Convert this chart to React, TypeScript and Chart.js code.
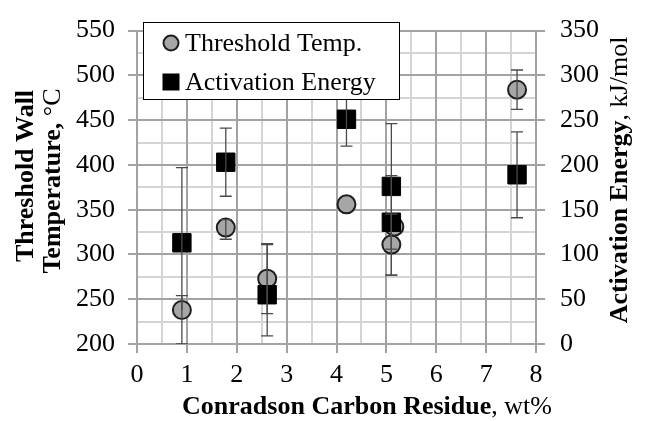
import React, { useEffect, useRef } from 'react';
import { Chart, registerables } from 'chart.js';

Chart.register(...registerables);

// ---- data ----
const tempLabel = 'Threshold Temp.';
const energyLabel = 'Activation Energy';
const xTemp = [0.9, 1.78, 2.61, 4.2, 5.1, 5.16, 7.62];
const tempValues = [238, 330, 273, 356, 311, 331, 484];
const tempErrPlus = [16, 9, 39, 0, 34, 0, 22];
const tempErrMinus = [0, 13, 39, 0, 34, 0, 22];

const xEnergy = [0.9, 1.78, 2.61, 4.2, 5.1, 5.1, 7.62];
const energyValues = [113, 203, 55, 251, 136, 176, 189];
const energyErrPlus = [84, 38, 56, 30, 52, 70, 48];
const energyErrMinus = [113, 38, 46, 30, 59, 70, 48];

const xTicks = [0, 1, 2, 3, 4, 5, 6, 7, 8];
const leftTicks = [200, 250, 300, 350, 400, 450, 500, 550];
const rightTicks = [0, 50, 100, 150, 200, 250, 300, 350];

const FONT = '"Liberation Serif", "Times New Roman", serif';
const MAJOR = '#a2a2a2';
const MINOR = '#d4d4d4';

type Part = { text: string; bold: boolean };

function drawMixed(ctx: CanvasRenderingContext2D, parts: Part[], size: number) {
  let total = 0;
  const widths = parts.map((p) => {
    ctx.font = `${p.bold ? 'bold ' : ''}${size}px ${FONT}`;
    const w = ctx.measureText(p.text).width;
    total += w;
    return w;
  });
  let x = -total / 2;
  parts.forEach((p, i) => {
    ctx.font = `${p.bold ? 'bold ' : ''}${size}px ${FONT}`;
    ctx.fillText(p.text, x, 0);
    x += widths[i];
  });
}

const minorGridPlugin = {
  id: 'minorGrid',
  beforeDraw(chart: any) {
    const { ctx, chartArea: a, scales } = chart;
    ctx.save();
    ctx.strokeStyle = MINOR;
    ctx.lineWidth = 2;
    const xs = scales.x;
    for (let i = 0; i < xTicks.length - 1; i++) {
      const v = (xTicks[i] + xTicks[i + 1]) / 2;
      const px = Math.round(xs.getPixelForValue(v));
      ctx.beginPath();
      ctx.moveTo(px, a.top);
      ctx.lineTo(px, a.bottom);
      ctx.stroke();
    }
    const ys = scales.y;
    for (let i = 0; i < leftTicks.length - 1; i++) {
      const v = (leftTicks[i] + leftTicks[i + 1]) / 2;
      const py = Math.round(ys.getPixelForValue(v));
      ctx.beginPath();
      ctx.moveTo(a.left, py);
      ctx.lineTo(a.right, py);
      ctx.stroke();
    }
    ctx.restore();
  },
};

const errorBarPlugin = {
  id: 'errorBars',
  afterDatasetsDraw(chart: any) {
    const { ctx, chartArea: a } = chart;
    ctx.save();
    ctx.beginPath();
    ctx.rect(a.left, a.top, a.right - a.left, a.bottom - a.top);
    ctx.clip();
    ctx.strokeStyle = '#4a4a4a';
    ctx.lineWidth = 1.3;
    chart.data.datasets.forEach((ds: any) => {
      const ys = chart.scales[ds.yAxisID];
      const xs = chart.scales.x;
      ds.data.forEach((pt: any, i: number) => {
        const plus = ds.errPlus[i];
        const minus = ds.errMinus[i];
        if (!plus && !minus) return;
        const px = xs.getPixelForValue(pt.x);
        const top = ys.getPixelForValue(pt.y + plus);
        const bot = ys.getPixelForValue(pt.y - minus);
        ctx.beginPath();
        ctx.moveTo(px, top);
        ctx.lineTo(px, bot);
        if (plus) {
          ctx.moveTo(px - 6, top);
          ctx.lineTo(px + 6, top);
        }
        if (minus) {
          ctx.moveTo(px - 6, bot);
          ctx.lineTo(px + 6, bot);
        }
        ctx.stroke();
      });
    });
    ctx.restore();
  },
};

const overlayPlugin = {
  id: 'overlay',
  afterDraw(chart: any) {
    const { ctx } = chart;
    ctx.save();
    // legend box
    const lx = 143, ly = 22, lw = 256, lh = 77;
    ctx.fillStyle = '#ffffff';
    ctx.fillRect(lx, ly, lw, lh);
    ctx.strokeStyle = '#000000';
    ctx.lineWidth = 1;
    ctx.strokeRect(lx + 0.5, ly + 0.5, lw, lh);
    const dsets = chart.data.datasets;
    const rows = [43, 82];
    dsets.forEach((ds: any, i: number) => {
      const cy = rows[i];
      const cx = 171;
      ctx.fillStyle = ds.backgroundColor;
      ctx.strokeStyle = ds.borderColor;
      ctx.lineWidth = ds.borderWidth;
      if (ds.pointStyle === 'circle') {
        ctx.beginPath();
        ctx.arc(cx, cy, 7.5, 0, Math.PI * 2);
        ctx.fill();
        ctx.stroke();
      } else {
        ctx.fillRect(cx - 8.5, cy - 8.5, 17, 17);
      }
      ctx.fillStyle = '#000000';
      ctx.font = `26px ${FONT}`;
      ctx.textAlign = 'left';
      ctx.textBaseline = 'middle';
      ctx.fillText(ds.label, 185, cy + 1);
    });

    // axis titles
    ctx.fillStyle = '#000000';
    ctx.textAlign = 'left';
    ctx.textBaseline = 'alphabetic';
    // bottom
    ctx.save();
    ctx.translate(367, 414);
    drawMixed(ctx, [
      { text: 'Conradson Carbon Residue', bold: true },
      { text: ', wt%', bold: false },
    ], 26);
    ctx.restore();
    // left, two lines
    ctx.save();
    ctx.translate(33, 176);
    ctx.rotate(-Math.PI / 2);
    drawMixed(ctx, [{ text: 'Threshold Wall', bold: true }], 26);
    ctx.restore();
    ctx.save();
    ctx.translate(60, 181);
    ctx.rotate(-Math.PI / 2);
    drawMixed(ctx, [
      { text: 'Temperature,', bold: true },
      { text: ' °C', bold: false },
    ], 26);
    ctx.restore();
    // right
    ctx.save();
    ctx.translate(627, 180);
    ctx.rotate(-Math.PI / 2);
    drawMixed(ctx, [
      { text: 'Activation Energy', bold: true },
      { text: ', kJ/mol', bold: false },
    ], 26);
    ctx.restore();
    ctx.restore();
  },
};

export default function App() {
  const ref = useRef<HTMLCanvasElement | null>(null);
  useEffect(() => {
    if (!ref.current) return;
    const chart = new Chart(ref.current, {
      type: 'scatter',
      data: {
        datasets: [
          {
            label: tempLabel,
            data: xTemp.map((x, i) => ({ x, y: tempValues[i] })),
            yAxisID: 'y',
            pointStyle: 'circle',
            pointRadius: 9,
            backgroundColor: '#a6a6a6',
            borderColor: '#1e1e1e',
            borderWidth: 2,
            order: 2,
            errPlus: tempErrPlus,
            errMinus: tempErrMinus,
          } as any,
          {
            label: energyLabel,
            data: xEnergy.map((x, i) => ({ x, y: energyValues[i] })),
            yAxisID: 'y2',
            pointStyle: 'rect',
            pointRadius: 13,
            backgroundColor: '#000000',
            borderColor: '#000000',
            borderWidth: 1,
            order: 1,
            errPlus: energyErrPlus,
            errMinus: energyErrMinus,
          } as any,
        ],
      },
      options: {
        animation: false,
        responsive: false,
        events: [],
        layout: { padding: { top: 20, left: 0, right: 0, bottom: 0 } },
        plugins: { legend: { display: false }, tooltip: { enabled: false } },
        scales: {
          x: {
            type: 'linear',
            min: 0,
            max: 8,
            afterBuildTicks: (s: any) => { s.ticks = xTicks.map((v) => ({ value: v })); },
            afterFit: (s: any) => { s.height = 77; },
            grid: { color: MAJOR, lineWidth: 2, tickLength: 9, tickColor: MAJOR },
            border: { color: MAJOR, width: 2 },
            ticks: { color: '#000', font: { family: FONT, size: 26 }, padding: 7, maxRotation: 0 },
          },
          y: {
            type: 'linear',
            position: 'left',
            min: 200,
            max: 550,
            afterBuildTicks: (s: any) => { s.ticks = leftTicks.map((v) => ({ value: v })); },
            afterFit: (s: any) => { s.width = 137; },
            grid: { color: MAJOR, lineWidth: 2, tickLength: 9, tickColor: MAJOR },
            border: { color: MAJOR, width: 2 },
            ticks: { color: '#000', font: { family: FONT, size: 26 }, padding: 13 },
          },
          y2: {
            type: 'linear',
            position: 'right',
            min: 0,
            max: 350,
            afterBuildTicks: (s: any) => { s.ticks = rightTicks.map((v) => ({ value: v })); },
            afterFit: (s: any) => { s.width = 111; },
            grid: { drawOnChartArea: false, color: MAJOR, lineWidth: 2, tickLength: 9, tickColor: MAJOR },
            border: { color: MAJOR, width: 2 },
            ticks: { color: '#000', font: { family: FONT, size: 26 }, padding: 15 },
          },
        },
      } as any,
      plugins: [minorGridPlugin, errorBarPlugin, overlayPlugin],
    });
    return () => chart.destroy();
  }, []);
  return (
    <div style={{ position: 'fixed', left: 0, top: 0, width: 647, height: 421, background: '#fff' }}>
      <canvas ref={ref} width={647} height={421} style={{ display: 'block' }} />
    </div>
  );
}
